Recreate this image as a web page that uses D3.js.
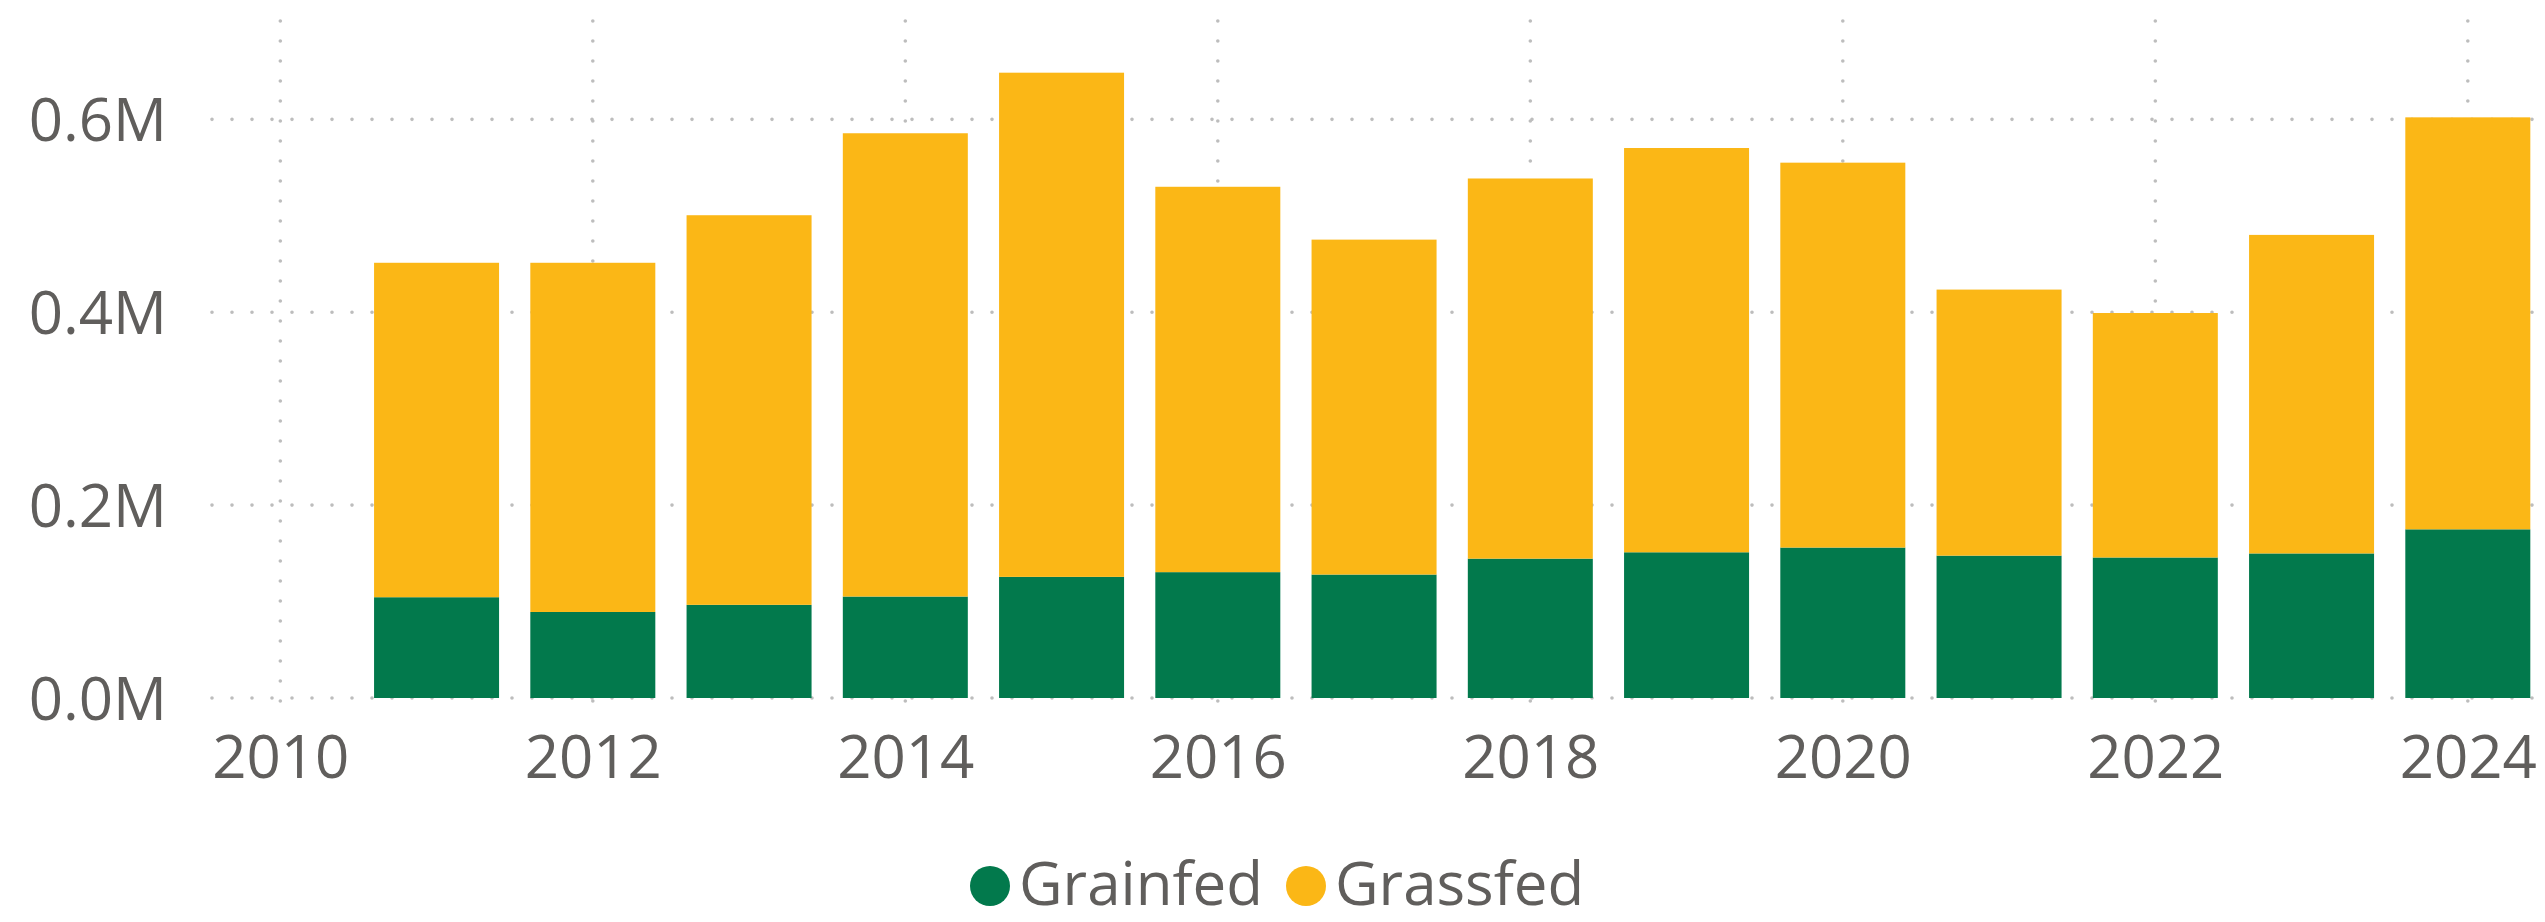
<!DOCTYPE html>
<html>
<head>
<meta charset="utf-8">
<script src="https://cdn.jsdelivr.net/npm/d3@7"></script>
<style>
  html, body { margin: 0; padding: 0; background: #fff; }
  #chart { width: 2545px; height: 922px; }
  text { font-family: "Segoe UI", "Open Sans", "Noto Sans", sans-serif; fill: #605e5c; }
</style>
</head>
<body>
<div id="chart"></div>
<script>
// data
const years = [2011, 2012, 2013, 2014, 2015, 2016, 2017, 2018, 2019, 2020, 2021, 2022, 2023, 2024];
const grainfed = [104500, 89200, 96600, 105200, 125600, 130500, 128000, 144500, 151100, 156000, 147600, 145700, 149900, 174900];
const grassfed = [346800, 362100, 404000, 480400, 522800, 399600, 347300, 394200, 419200, 399100, 275900, 253500, 330300, 427200];
const seriesNames = ['Grainfed', 'Grassfed'];
const xTicks = [2010, 2012, 2014, 2016, 2018, 2020, 2022, 2024];
const yTicks = [0, 200000, 400000, 600000];

const width = 2545;
const height = 922;
const margin = { top: 21, right: 10, bottom: 224, left: 210 };
const colors = { Grainfed: '#02794c', Grassfed: '#fbb716' };
const fontSize = '60px';

const rows = years.map((y, i) => ({ year: y, Grainfed: grainfed[i], Grassfed: grassfed[i] }));
const stacked = d3.stack().keys(seriesNames)(rows);

const svg = d3.select('#chart').append('svg')
    .attr('width', width)
    .attr('height', height);

// continuous year axis, bars centred on the year
const x = d3.scaleLinear()
    .domain([2009.55, 2024.43])
    .range([margin.left, width - margin.right]);

const y = d3.scaleLinear()
    .domain([0, 702000])
    .range([height - margin.bottom, margin.top]);

const barW = (x(2011) - x(2010)) * 0.8;

// grid
const grid = svg.append('g')
    .attr('stroke', '#bdbdbd')
    .attr('stroke-width', 3.6)
    .attr('stroke-linecap', 'round')
    .attr('stroke-dasharray', '0 20');

grid.selectAll('line.h')
    .data(yTicks)
    .join('line')
    .attr('class', 'h')
    .attr('x1', x.range()[0] + 2)
    .attr('x2', x.range()[1])
    .attr('y1', d => y(d))
    .attr('y2', d => y(d));

grid.selectAll('line.v')
    .data(xTicks)
    .join('line')
    .attr('class', 'v')
    .attr('x1', d => x(d))
    .attr('x2', d => x(d))
    .attr('y1', y.range()[1])
    .attr('y2', y(0) + 4);

// bars
svg.append('g')
    .selectAll('g')
    .data(stacked)
    .join('g')
    .attr('fill', d => colors[d.key])
    .selectAll('rect')
    .data(d => d)
    .join('rect')
    .attr('x', d => x(d.data.year) - barW / 2)
    .attr('width', barW)
    .attr('y', d => y(d[1]))
    .attr('height', d => y(d[0]) - y(d[1]));

// axes
const xAxis = svg.append('g')
    .attr('transform', `translate(0,${y(0)})`)
    .call(d3.axisBottom(x).tickValues(xTicks).tickFormat(d3.format('d')).tickSize(0).tickPadding(80));
xAxis.select('.domain').remove();
xAxis.selectAll('text')
    .attr('dy', 0)
    .style('font-size', fontSize)
    .attr('fill', '#605e5c');

const yAxis = svg.append('g')
    .attr('transform', `translate(${margin.left},0)`)
    .call(d3.axisLeft(y).tickValues(yTicks).tickFormat(d => (d / 1e6).toFixed(1) + 'M').tickSize(0).tickPadding(43));
yAxis.select('.domain').remove();
yAxis.selectAll('text')
    .attr('dy', '0.35em')
    .style('font-size', fontSize)
    .attr('fill', '#605e5c');

// legend
const legend = svg.append('g')
    .attr('transform', 'translate(0,884)');
const legendPos = [990, 1306];
seriesNames.forEach((name, i) => {
    legend.append('circle')
        .attr('cx', legendPos[i])
        .attr('cy', 2)
        .attr('r', 20)
        .attr('fill', colors[name]);
    legend.append('text')
        .attr('x', legendPos[i] + 29)
        .attr('y', 0)
        .attr('dy', '0.35em')
        .style('font-size', fontSize)
        .text(name);
});
</script>
</body>
</html>
